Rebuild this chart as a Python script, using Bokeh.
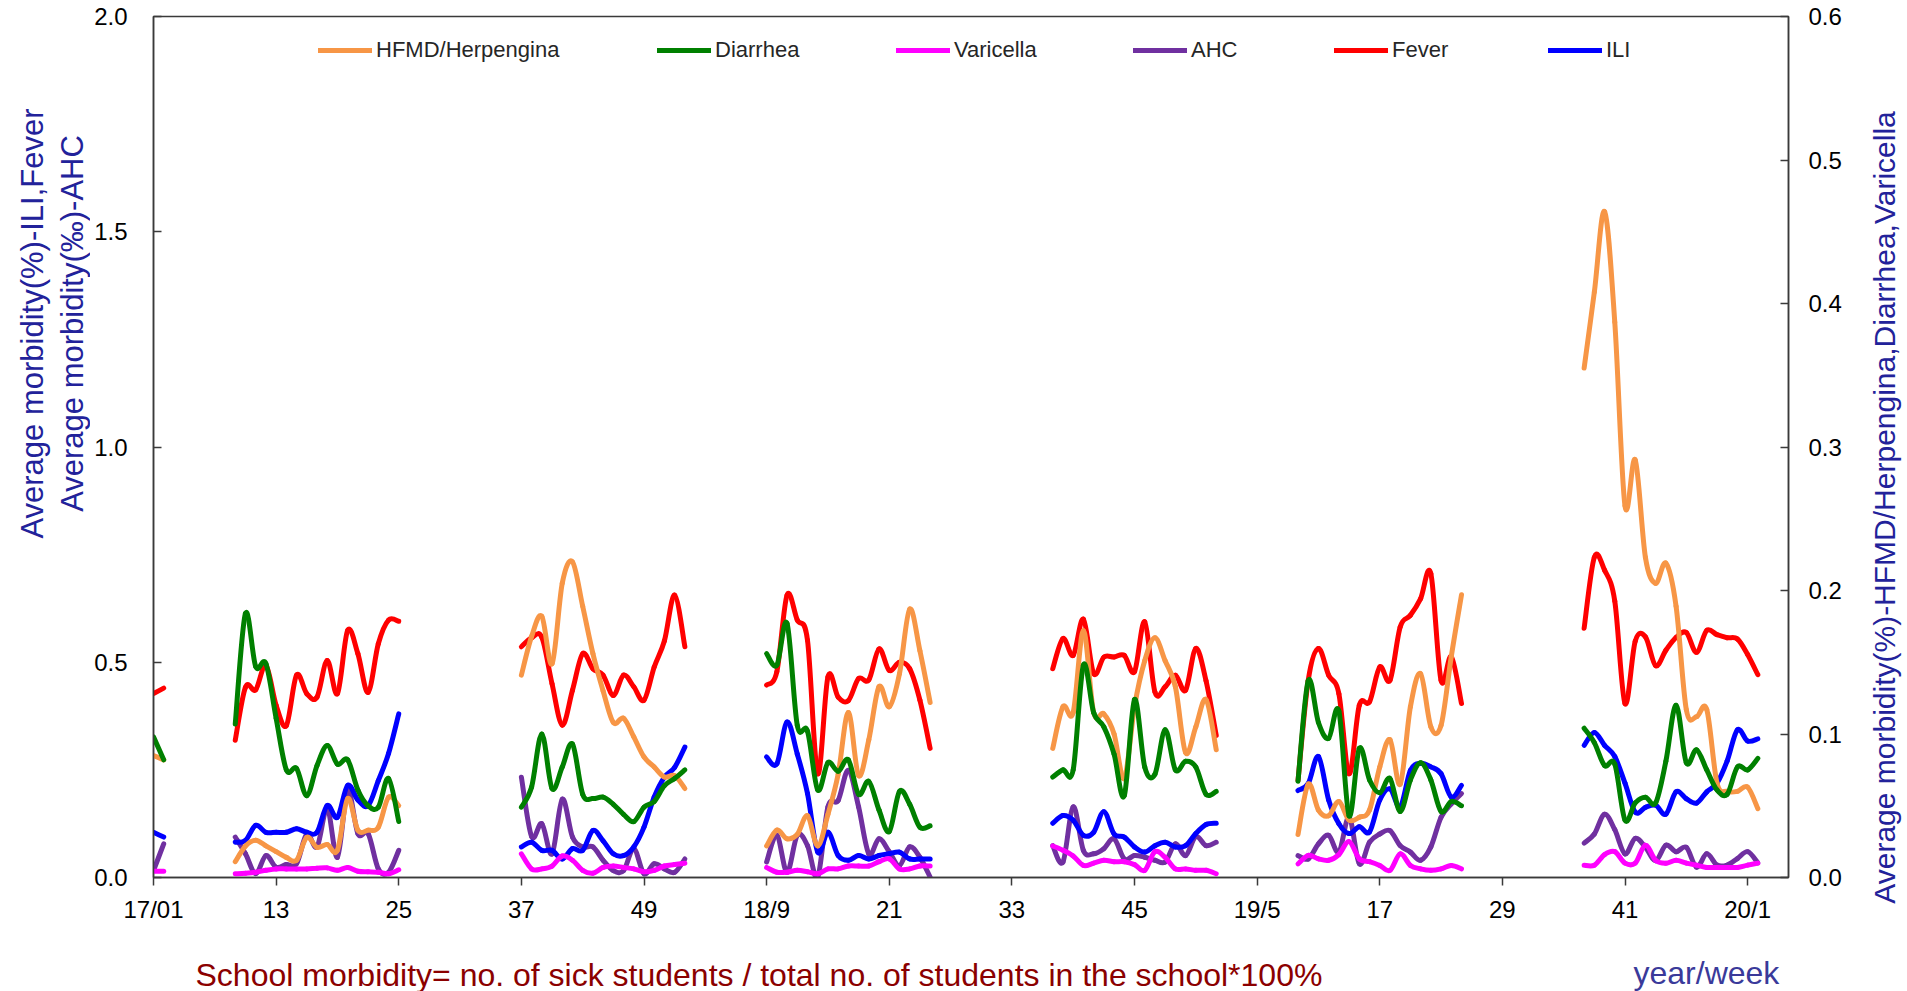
import math
from bokeh.plotting import figure
from bokeh.layouts import row, column
from bokeh.models import (Range1d, LinearAxis, FixedTicker, Legend, LegendItem,
                          Label, PrintfTickFormatter, ColumnDataSource)
from bokeh.embed import file_html
from bokeh.resources import INLINE

# ---------------- data ----------------
week_ticks = [0, 12, 24, 36, 48, 60, 72, 84, 96, 108, 120, 132, 144, 156]
week_labels = ["17/01", "13", "25", "37", "49", "18/9", "21", "33", "45",
               "19/5", "17", "29", "41", "20/1"]

# first week index of each school-term segment
seg_start = [0, 8, 36, 60, 88, 112, 140]

# right axis (%): HFMD/Herpengina, Diarrhea, Varicella
hfmd = [
    [0.085, 0.082],
    [0.011, 0.022, 0.026, 0.022, 0.018, 0.014, 0.012, 0.028, 0.021, 0.023, 0.019, 0.055, 0.033, 0.033, 0.035, 0.056, 0.050],
    [0.141, 0.168, 0.182, 0.149, 0.205, 0.220, 0.189, 0.156, 0.130, 0.108, 0.111, 0.098, 0.084, 0.077, 0.070, 0.071, 0.062],
    [0.022, 0.033, 0.027, 0.030, 0.043, 0.022, 0.044, 0.072, 0.115, 0.071, 0.096, 0.133, 0.119, 0.142, 0.187, 0.158, 0.122],
    [0.090, 0.119, 0.115, 0.172, 0.115, 0.114, 0.100, 0.069, 0.119, 0.151, 0.167, 0.151, 0.133, 0.087, 0.105, 0.124, 0.089],
    [0.030, 0.065, 0.047, 0.043, 0.053, 0.040, 0.042, 0.047, 0.077, 0.096, 0.065, 0.119, 0.142, 0.105, 0.106, 0.154, 0.197],
    [0.355, 0.408, 0.464, 0.387, 0.259, 0.291, 0.223, 0.205, 0.219, 0.189, 0.117, 0.112, 0.117, 0.066, 0.060, 0.060, 0.063, 0.048],
]
diarrhea = [
    [0.098, 0.082],
    [0.107, 0.184, 0.147, 0.149, 0.111, 0.075, 0.076, 0.057, 0.078, 0.092, 0.079, 0.082, 0.061, 0.050, 0.049, 0.069, 0.039],
    [0.049, 0.063, 0.100, 0.062, 0.077, 0.093, 0.058, 0.055, 0.056, 0.051, 0.044, 0.039, 0.049, 0.053, 0.064, 0.069, 0.075],
    [0.156, 0.148, 0.177, 0.106, 0.102, 0.061, 0.080, 0.074, 0.082, 0.058, 0.067, 0.047, 0.032, 0.060, 0.051, 0.035, 0.036],
    [0.070, 0.075, 0.075, 0.148, 0.115, 0.105, 0.086, 0.057, 0.124, 0.077, 0.072, 0.103, 0.075, 0.081, 0.077, 0.058, 0.060],
    [0.067, 0.137, 0.108, 0.097, 0.116, 0.043, 0.090, 0.068, 0.059, 0.069, 0.046, 0.068, 0.080, 0.068, 0.046, 0.053, 0.050],
    [0.104, 0.094, 0.078, 0.079, 0.040, 0.052, 0.056, 0.052, 0.081, 0.120, 0.080, 0.089, 0.075, 0.061, 0.058, 0.077, 0.075, 0.083],
]
varicella = [
    [0.0044, 0.0044],
    [0.0026, 0.003, 0.0037, 0.005, 0.006, 0.006, 0.006, 0.006, 0.0065, 0.0067, 0.005, 0.007, 0.0044, 0.004, 0.0037, 0.0026, 0.0054],
    [0.0165, 0.006, 0.006, 0.008, 0.015, 0.012, 0.005, 0.003, 0.007, 0.008, 0.007, 0.006, 0.004, 0.005, 0.008, 0.009, 0.010],
    [0.007, 0.0037, 0.0037, 0.005, 0.004, 0.0026, 0.006, 0.006, 0.008, 0.008, 0.008, 0.011, 0.013, 0.006, 0.006, 0.008, 0.008],
    [0.022, 0.019, 0.015, 0.0084, 0.010, 0.012, 0.011, 0.011, 0.009, 0.005, 0.018, 0.014, 0.006, 0.006, 0.005, 0.005, 0.0026],
    [0.0095, 0.0154, 0.013, 0.012, 0.016, 0.025, 0.013, 0.011, 0.0084, 0.005, 0.0165, 0.0084, 0.006, 0.005, 0.006, 0.0084, 0.006],
    [0.0086, 0.0086, 0.016, 0.018, 0.010, 0.010, 0.0225, 0.012, 0.010, 0.012, 0.010, 0.0086, 0.007, 0.007, 0.007, 0.007, 0.0086, 0.010],
]
# left axis: AHC (per mille), Fever (%), ILI (%)
ahc = [
    [0.016, 0.078],
    [0.094, 0.055, 0.009, 0.051, 0.024, 0.030, 0.032, 0.101, 0.071, 0.160, 0.047, 0.202, 0.102, 0.102, 0.020, 0.012, 0.063],
    [0.233, 0.095, 0.125, 0.055, 0.182, 0.094, 0.071, 0.071, 0.040, 0.016, 0.016, 0.067, 0.009, 0.032, 0.020, 0.012, 0.043],
    [0.036, 0.098, 0.012, 0.098, 0.074, 0.001, 0.164, 0.179, 0.249, 0.164, 0.055, 0.090, 0.060, 0.028, 0.071, 0.047, 0.001],
    [0.074, 0.036, 0.164, 0.063, 0.055, 0.067, 0.090, 0.043, 0.051, 0.047, 0.040, 0.036, 0.078, 0.051, 0.095, 0.074, 0.082],
    [0.051, 0.043, 0.078, 0.098, 0.059, 0.140, 0.032, 0.082, 0.101, 0.109, 0.074, 0.059, 0.040, 0.071, 0.140, 0.171, 0.195],
    [0.080, 0.101, 0.147, 0.111, 0.055, 0.091, 0.070, 0.039, 0.075, 0.060, 0.070, 0.024, 0.055, 0.029, 0.029, 0.044, 0.060, 0.034],
]
fever = [
    [0.427, 0.440],
    [0.319, 0.442, 0.436, 0.493, 0.400, 0.353, 0.470, 0.427, 0.419, 0.504, 0.427, 0.574, 0.520, 0.430, 0.543, 0.598, 0.595],
    [0.536, 0.557, 0.558, 0.450, 0.354, 0.435, 0.520, 0.485, 0.470, 0.423, 0.470, 0.443, 0.412, 0.489, 0.550, 0.656, 0.536],
    [0.447, 0.478, 0.656, 0.598, 0.551, 0.241, 0.466, 0.419, 0.411, 0.462, 0.459, 0.531, 0.481, 0.500, 0.485, 0.412, 0.300],
    [0.485, 0.555, 0.516, 0.600, 0.474, 0.512, 0.512, 0.516, 0.478, 0.594, 0.431, 0.443, 0.470, 0.435, 0.532, 0.457, 0.330],
    [0.225, 0.458, 0.532, 0.470, 0.427, 0.241, 0.400, 0.408, 0.489, 0.458, 0.582, 0.609, 0.648, 0.706, 0.458, 0.513, 0.404],
    [0.579, 0.744, 0.714, 0.642, 0.404, 0.549, 0.559, 0.492, 0.528, 0.558, 0.569, 0.523, 0.574, 0.564, 0.557, 0.554, 0.518, 0.471],
]
ili = [
    [0.105, 0.094],
    [0.082, 0.086, 0.121, 0.105, 0.105, 0.105, 0.113, 0.105, 0.105, 0.167, 0.140, 0.214, 0.180, 0.167, 0.225, 0.288, 0.380],
    [0.071, 0.082, 0.063, 0.063, 0.043, 0.067, 0.063, 0.109, 0.085, 0.055, 0.051, 0.071, 0.117, 0.187, 0.233, 0.256, 0.303],
    [0.280, 0.264, 0.361, 0.287, 0.195, 0.059, 0.105, 0.051, 0.040, 0.051, 0.043, 0.051, 0.055, 0.059, 0.043, 0.043, 0.043],
    [0.126, 0.144, 0.133, 0.098, 0.105, 0.153, 0.101, 0.094, 0.071, 0.059, 0.074, 0.082, 0.071, 0.074, 0.102, 0.123, 0.126],
    [0.202, 0.218, 0.281, 0.180, 0.125, 0.102, 0.118, 0.106, 0.180, 0.206, 0.164, 0.249, 0.265, 0.257, 0.241, 0.187, 0.214],
    [0.307, 0.337, 0.307, 0.281, 0.219, 0.152, 0.163, 0.168, 0.147, 0.199, 0.183, 0.173, 0.199, 0.219, 0.271, 0.343, 0.317, 0.322],
]


def smooth_source(segments):
    """Bezier pieces through the data points of every segment (smoothed line)."""
    d = {k: [] for k in ("x0", "y0", "x1", "y1", "cx0", "cy0", "cx1", "cy1")}
    for start, vals in zip(seg_start, segments):
        xs = list(range(start, start + len(vals)))
        n = len(vals)
        for i in range(n - 1):
            a = max(i - 1, 0)
            b = min(i + 2, n - 1)
            d["x0"].append(xs[i]); d["y0"].append(vals[i])
            d["x1"].append(xs[i + 1]); d["y1"].append(vals[i + 1])
            d["cx0"].append(xs[i] + (xs[i + 1] - xs[a]) / 6.0)
            d["cy0"].append(vals[i] + (vals[i + 1] - vals[a]) / 6.0)
            d["cx1"].append(xs[i + 1] - (xs[b] - xs[i]) / 6.0)
            d["cy1"].append(vals[i + 1] - (vals[b] - vals[i]) / 6.0)
    return ColumnDataSource(d)


FONT = "Liberation Sans"
NAVY = "#22229A"
ROW_H = 940          # height of the plot row
TOP, BOTTOM = 16, 63  # frame borders of the plot row (frame spans y 16..877)

# ---------------- main plot ----------------
p = figure(width=1760, height=ROW_H, x_range=Range1d(0, 160), y_range=Range1d(0, 2),
           output_backend="svg", toolbar_location=None,
           min_border_left=63, min_border_right=62, min_border_top=TOP, min_border_bottom=BOTTOM)
p.extra_y_ranges = {"right": Range1d(0, 0.6)}
p.xgrid.visible = False
p.ygrid.visible = False
p.outline_line_color = "#3a3a3a"
p.outline_line_width = 1.5

xa = p.xaxis[0]
xa.ticker = FixedTicker(ticks=week_ticks)
xa.major_label_overrides = {t: l for t, l in zip(week_ticks, week_labels)}
xa.major_tick_in = 0
xa.major_tick_out = 8
xa.minor_tick_line_color = None
xa.major_label_text_font = FONT
xa.major_label_text_font_size = "24px"
xa.major_label_text_color = "black"
xa.major_label_standoff = 10
xa.axis_line_color = "#3a3a3a"
xa.axis_line_width = 1.5
xa.major_tick_line_color = "#3a3a3a"
xa.major_tick_line_width = 1.5

ya = p.yaxis[0]
ya.ticker = FixedTicker(ticks=[0, 0.5, 1.0, 1.5, 2.0])
ya.formatter = PrintfTickFormatter(format="%.1f")

yr = LinearAxis(y_range_name="right", ticker=FixedTicker(ticks=[0, 0.1, 0.2, 0.3, 0.4, 0.5, 0.6]),
                formatter=PrintfTickFormatter(format="%.1f"))
p.add_layout(yr, "right")

for ax, so in ((ya, 26), (yr, 20)):
    ax.major_tick_in = 8
    ax.major_tick_out = 0
    ax.minor_tick_line_color = None
    ax.major_label_text_font = FONT
    ax.major_label_text_font_size = "24px"
    ax.major_label_text_color = "black"
    ax.major_label_standoff = so
    ax.axis_line_color = "#3a3a3a"
    ax.axis_line_width = 1.5
    ax.major_tick_line_color = "#3a3a3a"
    ax.major_tick_line_width = 1.5

specs = [
    ("AHC", ahc, "#7030A0", "default"),
    ("Fever", fever, "#FF0000", "default"),
    ("ILI", ili, "#0000FF", "default"),
    ("HFMD/Herpengina", hfmd, "#F79646", "right"),
    ("Diarrhea", diarrhea, "#008000", "right"),
    ("Varicella", varicella, "#FF00FF", "right"),
]
renderers = {}
for name, data, color, rng in specs:
    r = p.bezier(x0="x0", y0="y0", x1="x1", y1="y1", cx0="cx0", cy0="cy0",
                 cx1="cx1", cy1="cy1", source=smooth_source(data),
                 line_color=color, line_width=5, line_cap="round", y_range_name=rng)
    renderers[name] = r

legend_order = ["HFMD/Herpengina", "Diarrhea", "Varicella", "AHC", "Fever", "ILI"]
legend_x = [165, 504, 743, 980, 1181, 1395]
for name, lx in zip(legend_order, legend_x):
    leg = Legend(items=[LegendItem(label=name, renderers=[renderers[name]])],
                 location=(lx, 814), orientation="horizontal",
                 glyph_width=54, glyph_height=22, label_standoff=4,
                 padding=0, margin=0, border_line_alpha=0, background_fill_alpha=0,
                 label_text_font=FONT, label_text_font_size="22px",
                 label_text_color="#262626")
    p.add_layout(leg)


# ---------------- text panels around the plot ----------------
def text_panel(w, h, top=0, bottom=0):
    """Blank figure whose data units are pixels measured up from its frame bottom."""
    f = figure(width=w, height=h, x_range=Range1d(0, w), y_range=Range1d(0, h - top - bottom),
               output_backend="svg", toolbar_location=None,
               x_axis_location=None, y_axis_location=None,
               min_border=0, min_border_left=0, min_border_right=0,
               min_border_top=top, min_border_bottom=bottom)
    f.grid.visible = False
    f.outline_line_color = None
    return f


# left titles (frame shares the plot row's borders): page y -> 877 - y
left_panel = text_panel(90, ROW_H, TOP, BOTTOM)
frame_bottom = ROW_H - BOTTOM
for lx, txt in ((32, "Average morbidity(%)-ILI,Fever"), (72, "Average morbidity(‰)-AHC")):
    left_panel.add_layout(Label(x=lx, y=frame_bottom - 323, text=txt, angle=math.pi / 2,
                                text_align="center", text_baseline="middle",
                                text_font=FONT, text_font_size="31px", text_color=NAVY))

# bottom notes
bottom_panel = text_panel(1850, 991 - ROW_H)
bottom_panel.add_layout(Label(x=195, y=17,
                              text="School morbidity= no. of sick students / total no. of students in the school*100%",
                              text_align="left", text_baseline="middle",
                              text_font=FONT, text_font_size="32px", text_color="#8B0000"))
bottom_panel.add_layout(Label(x=1633, y=19, text="year/week",
                              text_align="left", text_baseline="middle",
                              text_font=FONT, text_font_size="32px", text_color="#3A3A9A"))

# right title, full page height; frame spans page y 16..928
right_panel = text_panel(57, 991, TOP, BOTTOM)
right_panel.add_layout(Label(x=34, y=(991 - BOTTOM) - 507,
                             text="Average morbidity(%)-HFMD/Herpengina,Diarrhea,Varicella",
                             angle=math.pi / 2, text_align="center", text_baseline="middle",
                             text_font=FONT, text_font_size="30px", text_color=NAVY))

layout = row(column(row(left_panel, p, spacing=0), bottom_panel, spacing=0),
             right_panel, spacing=0)

open("out.html", "w").write(file_html(layout, INLINE))
